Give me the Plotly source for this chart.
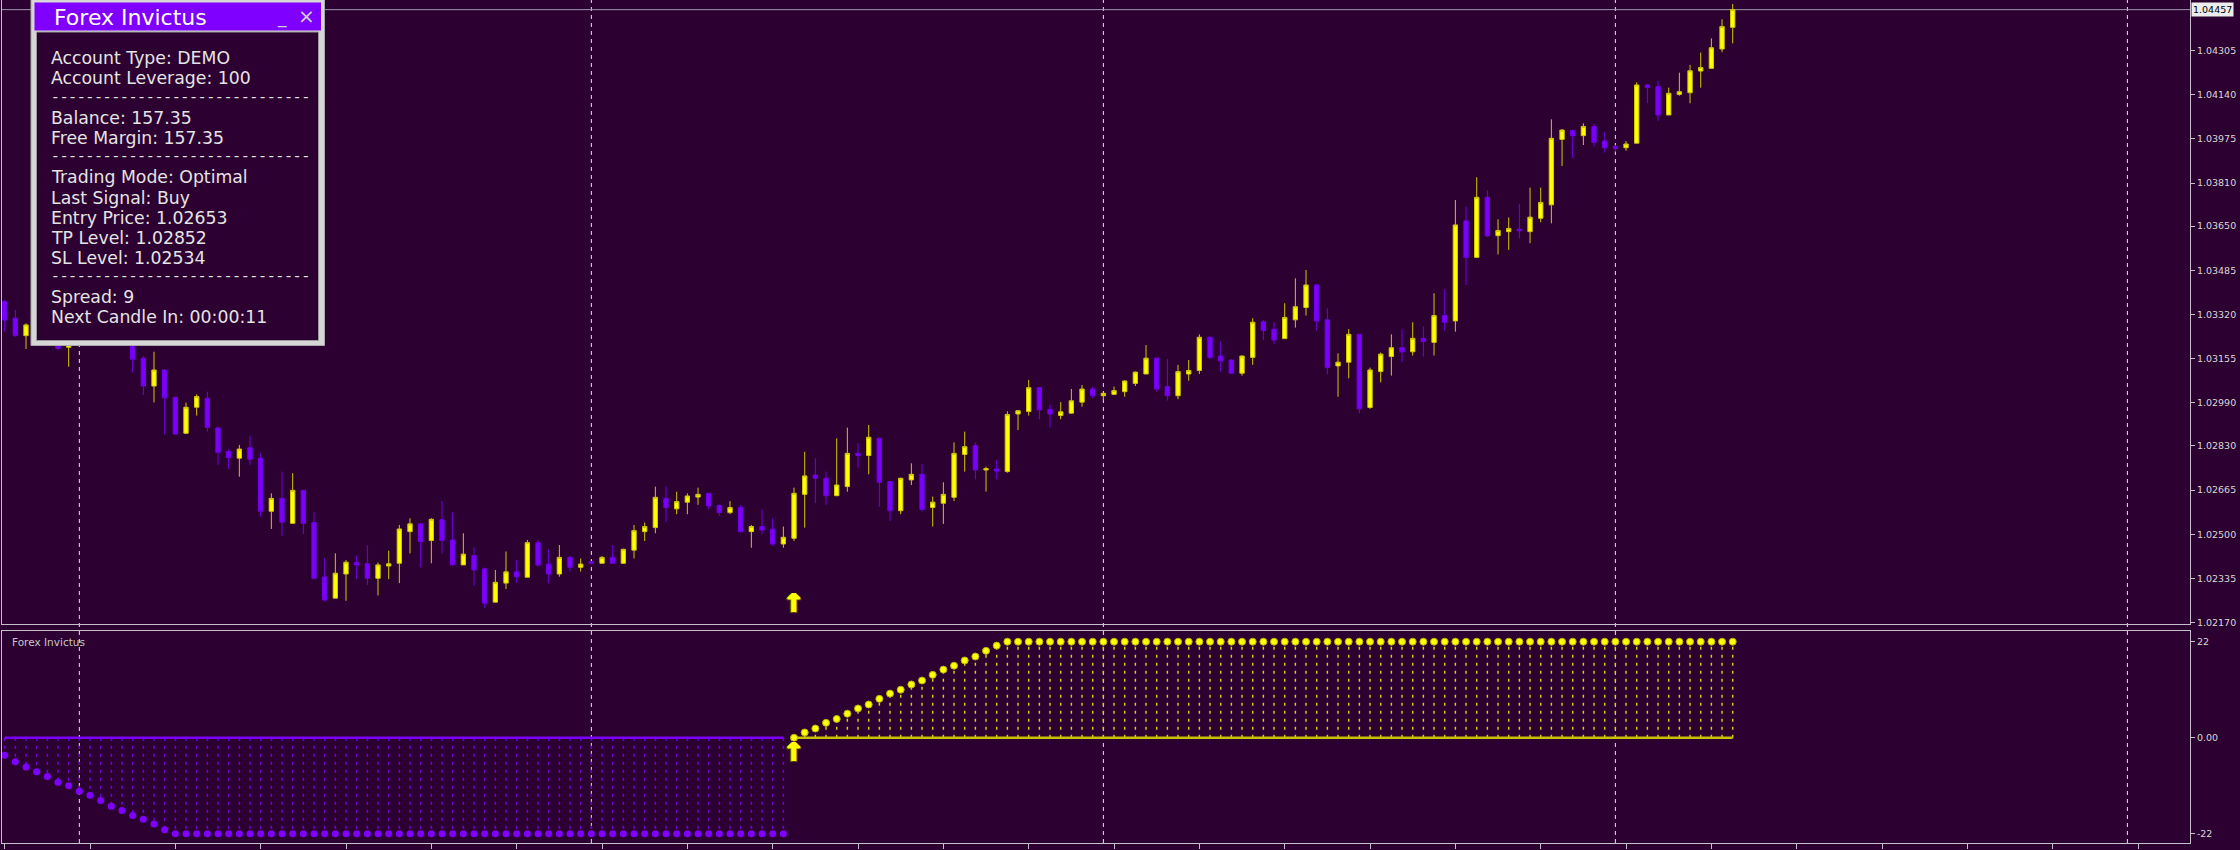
import plotly.graph_objects as go

# ---------------- data ----------------
opens = [
    1.03368, 1.03306, 1.03241, 1.03281, 1.03300, 1.03240, 1.03198, 1.03250, 1.03310, 1.03270,
    1.03230, 1.03260, 1.03215, 1.03157, 1.03053, 1.03113, 1.03011, 1.02877, 1.02974, 1.03007,
    1.02897, 1.02809, 1.02784, 1.02823, 1.02784, 1.02586, 1.02634, 1.02541, 1.02664, 1.02544,
    1.02341, 1.02262, 1.02352, 1.02395, 1.02390, 1.02336, 1.02382, 1.02392, 1.02510, 1.02539,
    1.02477, 1.02554, 1.02479, 1.02386, 1.02421, 1.02371, 1.02247, 1.02318, 1.02360, 1.02340,
    1.02469, 1.02389, 1.02352, 1.02414, 1.02377, 1.02398, 1.02392, 1.02414, 1.02392, 1.02441,
    1.02510, 1.02525, 1.02634, 1.02595, 1.02620, 1.02639, 1.02653, 1.02608, 1.02581, 1.02600,
    1.02510, 1.02529, 1.02519, 1.02464, 1.02485, 1.02649, 1.02721, 1.02709, 1.02644, 1.02678,
    1.02802, 1.02794, 1.02858, 1.02697, 1.02588, 1.02703, 1.02724, 1.02600, 1.02616, 1.02638,
    1.02798, 1.02831, 1.02740, 1.02744, 1.02734, 1.02949, 1.02958, 1.03047, 1.02966, 1.02943,
    1.02952, 1.02993, 1.03042, 1.03017, 1.03022, 1.03032, 1.03063, 1.03098, 1.03157, 1.03051,
    1.03017, 1.03098, 1.03111, 1.03235, 1.03165, 1.03150, 1.03101, 1.03160, 1.03293, 1.03265,
    1.03230, 1.03300, 1.03346, 1.03430, 1.03300, 1.03128, 1.03142, 1.03246, 1.02973, 1.03107,
    1.03163, 1.03196, 1.03181, 1.03231, 1.03216, 1.03316, 1.03296, 1.03669, 1.03533, 1.03757,
    1.03614, 1.03629, 1.03638, 1.03629, 1.03679, 1.03729, 1.03973, 1.04006, 1.03987, 1.04021,
    1.03967, 1.03946, 1.03942, 1.03959, 1.04176, 1.04170, 1.04064, 1.04141, 1.04147, 1.04228,
    1.04238, 1.04310, 1.04391,
]
highs = [
    1.03374, 1.03337, 1.03287, 1.03330, 1.03320, 1.03260, 1.03270, 1.03340, 1.03350, 1.03290,
    1.03280, 1.03280, 1.03230, 1.03165, 1.03181, 1.03115, 1.03013, 1.02991, 1.03022, 1.03032,
    1.02899, 1.02818, 1.02833, 1.02868, 1.02802, 1.02653, 1.02734, 1.02728, 1.02666, 1.02582,
    1.02411, 1.02429, 1.02404, 1.02421, 1.02459, 1.02395, 1.02439, 1.02535, 1.02560, 1.02541,
    1.02560, 1.02624, 1.02582, 1.02504, 1.02451, 1.02376, 1.02367, 1.02436, 1.02404, 1.02479,
    1.02479, 1.02444, 1.02460, 1.02419, 1.02410, 1.02400, 1.02419, 1.02460, 1.02446, 1.02535,
    1.02544, 1.02678, 1.02678, 1.02659, 1.02653, 1.02674, 1.02653, 1.02610, 1.02624, 1.02610,
    1.02535, 1.02593, 1.02560, 1.02529, 1.02674, 1.02808, 1.02784, 1.02734, 1.02858, 1.02898,
    1.02840, 1.02908, 1.02862, 1.02697, 1.02711, 1.02765, 1.02762, 1.02641, 1.02694, 1.02843,
    1.02883, 1.02842, 1.02752, 1.02777, 1.02959, 1.02963, 1.03076, 1.03050, 1.02983, 1.02993,
    1.03042, 1.03057, 1.03051, 1.03028, 1.03051, 1.03074, 1.03107, 1.03206, 1.03160, 1.03154,
    1.03132, 1.03150, 1.03246, 1.03237, 1.03219, 1.03152, 1.03167, 1.03306, 1.03300, 1.03291,
    1.03362, 1.03455, 1.03486, 1.03433, 1.03343, 1.03175, 1.03265, 1.03248, 1.03122, 1.03178,
    1.03246, 1.03265, 1.03291, 1.03275, 1.03399, 1.03414, 1.03747, 1.03722, 1.03832, 1.03782,
    1.03675, 1.03682, 1.03732, 1.03793, 1.03793, 1.04048, 1.04011, 1.04008, 1.04033, 1.04031,
    1.04000, 1.03952, 1.03967, 1.04186, 1.04180, 1.04191, 1.04166, 1.04222, 1.04251, 1.04297,
    1.04350, 1.04421, 1.04478,
]
lows = [
    1.03256, 1.03237, 1.03191, 1.03260, 1.03220, 1.03187, 1.03125, 1.03230, 1.03250, 1.03215,
    1.03215, 1.03212, 1.03103, 1.03019, 1.02992, 1.02873, 1.02872, 1.02874, 1.02943, 1.02883,
    1.02759, 1.02744, 1.02715, 1.02759, 1.02566, 1.02520, 1.02495, 1.02541, 1.02501, 1.02333,
    1.02249, 1.02262, 1.02252, 1.02333, 1.02311, 1.02272, 1.02333, 1.02318, 1.02429, 1.02377,
    1.02392, 1.02429, 1.02386, 1.02386, 1.02308, 1.02224, 1.02247, 1.02296, 1.02318, 1.02340,
    1.02379, 1.02317, 1.02342, 1.02361, 1.02361, 1.02390, 1.02392, 1.02390, 1.02390, 1.02410,
    1.02475, 1.02504, 1.02545, 1.02575, 1.02575, 1.02610, 1.02594, 1.02570, 1.02575, 1.02507,
    1.02450, 1.02500, 1.02457, 1.02450, 1.02475, 1.02525, 1.02616, 1.02610, 1.02644, 1.02659,
    1.02749, 1.02724, 1.02603, 1.02550, 1.02575, 1.02684, 1.02585, 1.02529, 1.02539, 1.02624,
    1.02734, 1.02705, 1.02659, 1.02705, 1.02730, 1.02889, 1.02943, 1.02929, 1.02899, 1.02929,
    1.02950, 1.02976, 1.03008, 1.03001, 1.03022, 1.03013, 1.03053, 1.03098, 1.03032, 1.02999,
    1.03004, 1.03073, 1.03098, 1.03153, 1.03107, 1.03098, 1.03092, 1.03132, 1.03225, 1.03210,
    1.03230, 1.03271, 1.03316, 1.03260, 1.03097, 1.03013, 1.03082, 1.02952, 1.02968, 1.03067,
    1.03092, 1.03142, 1.03167, 1.03163, 1.03167, 1.03260, 1.03256, 1.03430, 1.03533, 1.03610,
    1.03544, 1.03561, 1.03604, 1.03586, 1.03664, 1.03660, 1.03874, 1.03903, 1.03952, 1.03946,
    1.03924, 1.03927, 1.03931, 1.03959, 1.04108, 1.04042, 1.04064, 1.04136, 1.04108, 1.04166,
    1.04238, 1.04298, 1.04331,
]
closes = [
    1.03299, 1.03241, 1.03281, 1.03300, 1.03240, 1.03193, 1.03250, 1.03310, 1.03270, 1.03230,
    1.03260, 1.03220, 1.03153, 1.03053, 1.03113, 1.03009, 1.02874, 1.02974, 1.03014, 1.02899,
    1.02805, 1.02786, 1.02818, 1.02780, 1.02586, 1.02634, 1.02545, 1.02664, 1.02541, 1.02336,
    1.02255, 1.02355, 1.02396, 1.02386, 1.02336, 1.02386, 1.02390, 1.02520, 1.02539, 1.02473,
    1.02556, 1.02477, 1.02386, 1.02426, 1.02367, 1.02243, 1.02321, 1.02360, 1.02342, 1.02469,
    1.02386, 1.02352, 1.02414, 1.02377, 1.02389, 1.02392, 1.02414, 1.02392, 1.02444, 1.02514,
    1.02529, 1.02638, 1.02600, 1.02622, 1.02643, 1.02649, 1.02606, 1.02581, 1.02600, 1.02510,
    1.02529, 1.02516, 1.02464, 1.02489, 1.02653, 1.02718, 1.02709, 1.02644, 1.02684, 1.02802,
    1.02794, 1.02862, 1.02694, 1.02588, 1.02709, 1.02724, 1.02593, 1.02620, 1.02649, 1.02802,
    1.02827, 1.02740, 1.02745, 1.02736, 1.02947, 1.02961, 1.03047, 1.02964, 1.02949, 1.02957,
    1.02998, 1.03042, 1.03017, 1.03026, 1.03036, 1.03072, 1.03105, 1.03157, 1.03042, 1.03017,
    1.03107, 1.03111, 1.03235, 1.03160, 1.03147, 1.03101, 1.03165, 1.03291, 1.03260, 1.03225,
    1.03309, 1.03349, 1.03430, 1.03296, 1.03122, 1.03142, 1.03246, 1.02968, 1.03113, 1.03172,
    1.03196, 1.03181, 1.03231, 1.03219, 1.03316, 1.03291, 1.03654, 1.03533, 1.03757, 1.03613,
    1.03633, 1.03641, 1.03632, 1.03683, 1.03738, 1.03977, 1.04008, 1.03987, 1.04021, 1.03962,
    1.03942, 1.03939, 1.03956, 1.04176, 1.04167, 1.04064, 1.04145, 1.04151, 1.04229, 1.04241,
    1.04315, 1.04394, 1.04457,
]
bars = list(range(len(closes)))

# indicator (sub window) values
sell_values = [
    -4.0, -5.5, -6.7, -7.8, -8.9, -10.2, -11.0, -12.3, -13.2, -14.4,
    -15.7, -16.7, -17.8, -18.7, -19.8, -21.1, -22, -22, -22, -22,
    -22, -22, -22, -22, -22, -22, -22, -22, -22, -22,
    -22, -22, -22, -22, -22, -22, -22, -22, -22, -22,
    -22, -22, -22, -22, -22, -22, -22, -22, -22, -22,
    -22, -22, -22, -22, -22, -22, -22, -22, -22, -22,
    -22, -22, -22, -22, -22, -22, -22, -22, -22, -22,
    -22, -22, -22, -22,
]
buy_values = [
    0.0, 1.2, 2.1, 3.4, 4.3, 5.5, 6.7, 7.6, 8.9, 10.1,
    11.0, 12.2, 13.1, 14.4, 15.6, 16.5, 17.7, 18.6, 19.9, 21.1,
    22, 22, 22, 22, 22, 22, 22, 22, 22, 22,
    22, 22, 22, 22, 22, 22, 22, 22, 22, 22,
    22, 22, 22, 22, 22, 22, 22, 22, 22, 22,
    22, 22, 22, 22, 22, 22, 22, 22, 22, 22,
    22, 22, 22, 22, 22, 22, 22, 22, 22, 22,
    22, 22, 22, 22, 22, 22, 22, 22, 22, 22,
    22, 22, 22, 22, 22, 22, 22, 22, 22,
]
sell_bars = bars[:len(sell_values)]
buy_bars = bars[len(sell_values):len(sell_values) + len(buy_values)]

signal_bar = 74
signal_arrow_price = 1.02233
signal_arrow_ind = -3.8
bid_price = 1.04457

price_ticks = [1.04305, 1.04140, 1.03975, 1.03810, 1.03650, 1.03485, 1.03320,
               1.03155, 1.02990, 1.02830, 1.02665, 1.02500, 1.02335, 1.02170]
price_ticktext = ["%.5f" % v for v in price_ticks]
ind_ticks = [22, 0, -22]
ind_ticktext = ["22", "0.00", "-22"]
grid_bars = [7, 55, 103, 151, 199]

panel_title = "Forex Invictus"
panel_lines = [
    "Account Type: DEMO",
    "Account Leverage: 100",
    "-" * 30,
    "Balance: 157.35",
    "Free Margin: 157.35",
    "-" * 30,
    "Trading Mode: Optimal",
    "Last Signal: Buy",
    "Entry Price: 1.02653",
    "TP Level: 1.02852",
    "SL Level: 1.02534",
    "-" * 30,
    "Spread: 9",
    "Next Candle In: 00:00:11",
]
sub_label = "Forex Invictus"

# ---------------- styling ----------------
BG = "#2C0030"
YEL = "#FFFF00"
YEL_LINE = "#D2C800"
PUR = "#7B00FF"
PUR_LINE = "#7000EA"
FRAME = "#C4C0CC"
TXT = "#D8D8D8"

W, H = 2240, 850
ML, MR, MT, MB = 2, 50, 0, 7
PW, PH = W - ML - MR, H - MT - MB


def px(x):
    return (x - ML) / PW


def py(y):
    return 1 - (y - MT) / PH


fig = go.Figure()

fig.add_trace(go.Candlestick(
    x=bars, open=opens, high=highs, low=lows, close=closes,
    increasing=dict(fillcolor=YEL, line=dict(color=YEL_LINE, width=1)),
    decreasing=dict(fillcolor=PUR, line=dict(color=PUR_LINE, width=1)),
    whiskerwidth=0, hoverinfo="skip", xaxis="x", yaxis="y", showlegend=False,
))

arrow_font = dict(size=26, color=YEL, family="DejaVu Sans", weight="bold",
                  shadow="1px 0px 0px #FFFF00, -1px 0px 0px #FFFF00, "
                         "2px 1px 1px #6E6A00, -2px 1px 1px #6E6A00")

# main window buy arrow
fig.add_trace(go.Scatter(
    x=[signal_bar], y=[signal_arrow_price], mode="text", text=["↑"],
    textfont=arrow_font, xaxis="x", yaxis="y", showlegend=False, hoverinfo="skip",
))

# ---- indicator window ----
def stems(xs, vs):
    sx, sy = [], []
    for x, v in zip(xs, vs):
        sx += [x, x, None]
        sy += [0, v, None]
    return sx, sy


sx, sy = stems(sell_bars, sell_values)
fig.add_trace(go.Scatter(x=sx, y=sy, mode="lines",
                         line=dict(color=PUR_LINE, width=1.5, dash="3px,5px"),
                         xaxis="x2", yaxis="y2", showlegend=False, hoverinfo="skip"))
bx, by = stems(buy_bars, buy_values)
fig.add_trace(go.Scatter(x=bx, y=by, mode="lines",
                         line=dict(color="#D6D000", width=1.5, dash="3px,5px"),
                         xaxis="x2", yaxis="y2", showlegend=False, hoverinfo="skip"))
fig.add_trace(go.Scatter(x=[sell_bars[0], sell_bars[-1]], y=[0, 0], mode="lines",
                         line=dict(color=PUR, width=2.5),
                         xaxis="x2", yaxis="y2", showlegend=False, hoverinfo="skip"))
fig.add_trace(go.Scatter(x=[buy_bars[0], buy_bars[-1]], y=[0, 0], mode="lines",
                         line=dict(color="#C8C000", width=2.5),
                         xaxis="x2", yaxis="y2", showlegend=False, hoverinfo="skip"))
fig.add_trace(go.Scatter(x=sell_bars, y=sell_values, mode="markers",
                         marker=dict(color="#8000FF", size=7, line=dict(width=0)),
                         xaxis="x2", yaxis="y2", showlegend=False, hoverinfo="skip"))
fig.add_trace(go.Scatter(x=buy_bars, y=buy_values, mode="markers",
                         marker=dict(color=YEL, size=7, line=dict(color="#B8B000", width=1)),
                         xaxis="x2", yaxis="y2", showlegend=False, hoverinfo="skip"))
fig.add_trace(go.Scatter(
    x=[signal_bar], y=[signal_arrow_ind], mode="text", text=["↑"],
    textfont=arrow_font, xaxis="x2", yaxis="y2", showlegend=False, hoverinfo="skip",
))

x_range = [-0.25, 204.87]
main_top_px, main_bot_px = 0, 624
sub_top_px, sub_bot_px = 631, 843

axis_common = dict(showline=True, mirror=True, linecolor=FRAME, linewidth=1,
                   zeroline=False, showgrid=False)

fig.update_layout(
    width=W, height=H,
    margin=dict(l=ML, r=MR, t=MT, b=MB),
    paper_bgcolor=BG, plot_bgcolor=BG,
    boxgap=0.42,
    showlegend=False,
    font=dict(family="DejaVu Sans", color=TXT),
    xaxis=dict(domain=[0, 1], range=x_range, anchor="y", showticklabels=False,
               ticks="", rangeslider=dict(visible=False), **axis_common),
    xaxis2=dict(domain=[0, 1], range=x_range, anchor="y2", showticklabels=False,
                ticks="outside", tickmode="linear", tick0=0, dtick=8, ticklen=5,
                tickcolor=FRAME, **axis_common),
    yaxis=dict(domain=[py(main_bot_px), py(main_top_px)],
               range=[1.021655, 1.04493], side="right", anchor="x",
               tickmode="array", tickvals=price_ticks, ticktext=price_ticktext,
               ticks="outside", ticklen=4, tickcolor=FRAME,
               tickfont=dict(size=9.5, color=TXT, family="DejaVu Sans"),
               **axis_common),
    yaxis2=dict(domain=[py(sub_bot_px), py(sub_top_px)],
                range=[-24.13, 24.45], side="right", anchor="x2",
                tickmode="array", tickvals=ind_ticks, ticktext=ind_ticktext,
                ticks="outside", ticklen=4, tickcolor=FRAME,
                tickfont=dict(size=9.5, color=TXT, family="DejaVu Sans"),
                **axis_common),
)

shapes = []
# vertical dotted grid (every 48 bars)
for g in grid_bars:
    shapes.append(dict(type="line", xref="x", yref="paper", x0=g, x1=g, y0=0, y1=1,
                       line=dict(color="#E6E6E6", width=1, dash="4px,4px"), layer="below"))
# bid line
shapes.append(dict(type="line", xref="x domain", yref="y", x0=0, x1=1,
                   y0=bid_price, y1=bid_price,
                   line=dict(color="#9C98AC", width=1), layer="below"))

# info panel (drawn above the candles)
shapes.append(dict(type="rect", xref="paper", yref="paper",
                   x0=px(31), x1=px(324.5), y0=py(345.5), y1=py(-1),
                   fillcolor="#D6D6D6", line=dict(color="#A8A8A8", width=1), layer="above"))
shapes.append(dict(type="rect", xref="paper", yref="paper",
                   x0=px(34.5), x1=px(321), y0=py(30.5), y1=py(2.5),
                   fillcolor="#8000FF", line=dict(width=0), layer="above"))
shapes.append(dict(type="rect", xref="paper", yref="paper",
                   x0=px(36.5), x1=px(318.5), y0=py(340.5), y1=py(32),
                   fillcolor=BG, line=dict(color="#9A9A9A", width=1), layer="above"))
fig.update_layout(shapes=shapes)

ann = []
ann.append(dict(xref="paper", yref="y", x=px(2191), y=bid_price, xanchor="left",
                yanchor="middle", text="%.5f" % bid_price, showarrow=False,
                bgcolor="#ECECEC", borderpad=1,
                font=dict(size=9.5, color="#000000", family="DejaVu Sans")))
ann.append(dict(xref="paper", yref="paper", x=px(52), y=py(17), xanchor="left",
                yanchor="middle", text=panel_title, showarrow=False,
                font=dict(size=22, color="#FFFFFF", family="DejaVu Sans")))
ann.append(dict(xref="paper", yref="paper", x=px(282), y=py(17), xanchor="center",
                yanchor="middle", text="_", showarrow=False,
                font=dict(size=17, color="#D0D0D0", family="DejaVu Sans")))
ann.append(dict(xref="paper", yref="paper", x=px(306), y=py(16), xanchor="center",
                yanchor="middle", text="×", showarrow=False,
                font=dict(size=20, color="#D0D0D0", family="DejaVu Sans")))
line_y = [57, 77, 97, 117, 137, 156, 176, 197, 217, 237, 257, 276, 296, 316]
for txt, yy in zip(panel_lines, line_y):
    if set(txt) == {"-"}:
        f = dict(size=14.4, color="#E4E4E4", family="Liberation Mono")
    else:
        f = dict(size=17.3, color="#E4E4E4", family="DejaVu Sans")
    ann.append(dict(xref="paper", yref="paper", x=px(49), y=py(yy + 1), xanchor="left",
                    yanchor="middle", text=txt, showarrow=False, font=f))
ann.append(dict(xref="paper", yref="paper", x=px(10), y=py(642), xanchor="left",
                yanchor="middle", text=sub_label, showarrow=False,
                font=dict(size=10.5, color="#C8C8C8", family="DejaVu Sans")))
fig.update_layout(annotations=ann)

fig.write_html(
    "out.html",
    config={"displayModeBar": False},
    post_script="document.body.style.margin='0';document.body.style.padding='0';"
                "document.body.style.overflow='hidden';",
)
